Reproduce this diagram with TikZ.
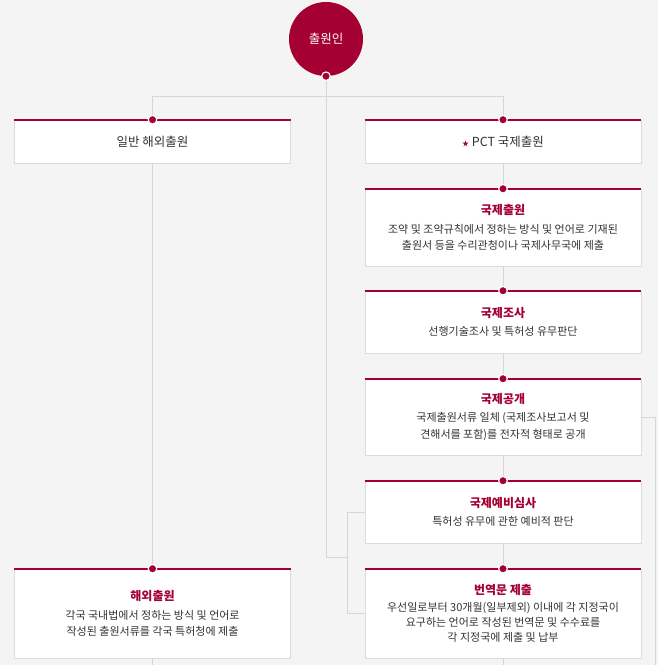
\documentclass[tikz,border=0pt]{standalone}
\usepackage{fontspec}
\setmainfont{Noto Sans CJK KR}
\usetikzlibrary{positioning}

\definecolor{kred}{HTML}{A50034}
\definecolor{ktext}{HTML}{333333}
\definecolor{kline}{HTML}{D6D6D6}
\definecolor{kbg}{HTML}{F4F4F4}
\definecolor{kborder}{HTML}{DCDCDC}

\newcommand{\boxtitle}[1]{{\color{kred}\fontsize{12}{14}\selectfont\bfseries #1}\\[2pt]}

\begin{document}
\begin{tikzpicture}[x=1pt, y=-1pt,
	conn/.style={draw=kline, line width=0.9pt},
	card/.style={draw=kborder, line width=0.6pt, fill=white, inner sep=0pt,
		minimum width=276pt, align=center, text=ktext,
		font=\fontsize{11}{16.5}\selectfont},
	redbar/.style={draw=kred, line width=2.4pt},
	pin/.style={circle, fill=kred, draw=white, line width=1.1pt, inner sep=0pt, minimum size=8.5pt}]

	\useasboundingbox[fill=kbg] (0, 0) rectangle (658, 665);

	% applicant
	\node[circle, fill=kred, minimum size=74pt, inner sep=0pt, text=white,
		font=\fontsize{12.5}{14}\selectfont] (app) at (326, 39) {출원인};

	% left column
	\node[card, minimum height=43pt, font=\fontsize{12.5}{14}\selectfont] (gen) at (152.5, 141.5) {일반 해외출원};
	\node[card, minimum height=89pt] (abroad) at (152.5, 613.5) {\boxtitle{해외출원}
		각국 국내법에서 정하는 방식 및 언어로\\작성된 출원서류를 각국 특허청에 제출};

	% right column
	\node[card, minimum height=43pt, font=\fontsize{12.5}{14}\selectfont] (pct) at (503, 141.5) {{\color{kred}\scriptsize ★} PCT 국제출원};
	\node[card, minimum height=77pt] (intl) at (503, 227.5) {\boxtitle{국제출원}
		조약 및 조약규칙에서 정하는 방식 및 언어로 기재된\\출원서 등을 수리관청이나 국제사무국에 제출};
	\node[card, minimum height=62pt] (search) at (503, 322) {\boxtitle{국제조사}
		선행기술조사 및 특허성 유무판단};
	\node[card, minimum height=76pt] (pub) at (503, 417) {\boxtitle{국제공개}
		국제출원서류 일체 (국제조사보고서 및\\견해서를 포함)를 전자적 형태로 공개};
	\node[card, minimum height=62pt] (exam) at (503, 512) {\boxtitle{국제예비심사}
		특허성 유무에 관한 예비적 판단};
	\node[card, minimum height=89pt, font=\fontsize{11}{15}\selectfont] (trans) at (503, 613.5) {\boxtitle{번역문 제출}
		우선일로부터 30개월(일부제외) 이내에 각 지정국이\\요구하는 언어로 작성된 번역문 및 수수료를\\각 지정국에 제출 및 납부};

	\coordinate (leftend) at (152.5, 665);
	\coordinate (rightend) at (503, 665);
	\coordinate (sideend) at (655, 665);
	\coordinate (join) at (348, 557);

	% connectors
	\draw[conn] (gen.north) -- ++(0, -23) -| (pct.north);
	\draw[conn] (app.south) |- (join);
	\draw[conn] (exam.west) -- ++(-17, 0) |- (trans.west);
	\draw[conn] (pub.east) -| (sideend);
	\draw[conn] (gen.south) -- (abroad.north);
	\draw[conn] (abroad.south) -- (leftend);
	\draw[conn] (pct.south) -- (intl.north);
	\draw[conn] (intl.south) -- (search.north);
	\draw[conn] (search.south) -- (pub.north);
	\draw[conn] (pub.south) -- (exam.north);
	\draw[conn] (exam.south) -- (trans.north);
	\draw[conn] (trans.south) -- (rightend);

	% red top bars and pins
	\foreach \b in {gen, abroad, pct, intl, search, pub, exam, trans} {
		\draw[redbar] (\b.north west) -- (\b.north east);
		\node[pin] (pin-\b) at (\b.north) {};
	}
	\node[pin] (pin-app) at (app.south) {};

\end{tikzpicture}
\end{document}
